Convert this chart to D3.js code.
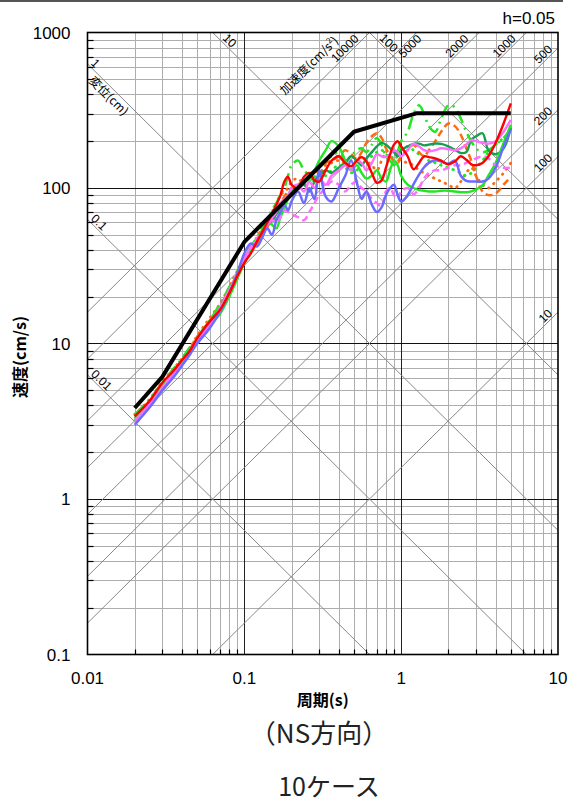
<!DOCTYPE html>
<html><head><meta charset="utf-8">
<script src="https://cdn.jsdelivr.net/npm/d3@7"></script>
<style>body{margin:0;background:#fff}svg{display:block}</style>
</head><body>
<svg id="c" width="569" height="804"></svg>
<script>
// ---------- data ----------
const periods=[0.02,0.025,0.03,0.035,0.04,0.045,0.05,0.06,0.07,0.08,
0.09,0.1,0.11,0.12,0.13,0.14,0.15,0.16,0.17,0.18,
0.19,0.2,0.22,0.24,0.26,0.28,0.3,0.33,0.36,0.4,
0.44,0.48,0.52,0.56,0.6,0.65,0.7,0.75,0.8,0.85,
0.9,0.95,1.0,1.1,1.2,1.3,1.4,1.5,1.65,1.8,
2.0,2.2,2.4,2.6,2.8,3.0,3.3,3.6,4.0,4.5,5.0];

const designT=[0.02,0.03,0.1,0.5,1.25,5];
const designSv=[3.85,6.1,45,230,302,302];

const caseRed=[3.4,4.3,5.6,6.6,7.8,9.0,10.8,13.8,16.5,21,
27,33,38,45,52,60,68,78,90,110,
118,105,100,118,125,112,110,130,150,160,
145,138,150,158,148,125,108,112,135,165,
190,200,185,160,132,145,160,158,155,150,
142,148,160,152,142,140,145,160,195,260,350];
const caseBlue=[3.0,3.9,5.0,6.0,7.2,8.5,10.0,12.5,16,21,
28,38,44,42,48,55,50,62,70,78,
72,82,95,80,100,85,130,88,82,100,
120,150,110,85,95,78,70,75,90,100,
105,90,82,90,106,122,136,145,151,148,
143,150,120,111,110,110,110,115,135,185,238];
const casePink=[3.2,4.1,5.2,6.4,7.7,9.0,10.6,13.2,17,22,
28,35,42,46,52,58,64,70,80,85,
90,100,105,95,110,100,115,105,120,130,
140,130,150,145,130,145,165,160,158,165,
175,170,160,175,193,185,175,172,175,180,
178,175,180,190,204,200,195,193,200,230,274];
const casePinkDash=[3.1,4.0,5.0,6.1,7.4,8.8,10.0,13,16.5,21,
27,34,40,47,52,58,62,60,65,72,
70,68,65,62,70,80,90,100,110,105,
95,105,110,100,95,85,80,76,95,100,
90,85,95,100,91,100,115,125,130,130,
135,140,140,145,150,155,160,155,140,135,135];
const caseGreen=[3.3,4.2,5.4,6.5,7.5,8.8,10.5,13,15.5,20,
26,33,40,46,54,60,58,55,65,75,
85,95,100,110,120,130,150,175,200,185,
150,130,140,125,115,120,130,115,110,130,
150,140,120,105,100,97,96,95,95,96,
96,95,94,94,95,98,104,120,145,195,255];
const caseGreenDash=[3.5,4.4,5.6,6.8,8.0,9.5,11,14,18,23,
29,36,42,48,56,64,72,80,90,100,
120,140,150,130,120,110,130,150,160,170,
150,160,175,180,170,190,210,190,160,150,
140,170,200,230,300,340,300,250,230,280,
340,330,280,230,200,180,170,175,190,210,240];
const caseDarkGreen=[3.3,4.2,5.3,6.4,7.6,9,10.5,13,16,21,
27,33,40,46,52,58,62,68,75,82,
90,95,100,105,95,110,120,130,125,135,
145,160,150,140,155,170,185,195,190,180,
170,160,175,185,192,193,188,190,193,192,
185,176,168,170,205,215,225,175,165,180,245];
const caseOrangeDash=[3.4,4.3,5.5,6.5,7.7,9.2,11,14,17.5,22,
28,35,40,44,50,56,64,72,80,88,
95,100,105,112,118,125,135,145,150,160,
175,165,155,170,195,215,225,210,180,160,
150,145,160,175,190,170,160,175,200,230,
260,250,220,180,150,120,95,90,92,105,118];
const caseOrangeDot=[3.5,4.4,5.7,6.8,8,9.4,11.2,14.5,18,23,
29,35,41,48,55,62,70,80,90,95,
100,110,115,105,120,130,125,140,145,150,
140,130,150,160,150,140,130,150,170,180,
175,160,150,145,140,130,125,120,115,110,
105,100,110,125,135,120,105,100,110,125,145];
const caseGreenDot=[3.2,4.1,5.3,6.3,7.5,8.9,10.3,13,16,20,
26,33,38,44,50,56,60,65,72,80,
85,92,98,105,112,118,125,120,130,140,
135,125,130,140,150,160,170,175,165,155,
160,170,180,185,175,165,160,150,145,140,
135,130,125,120,125,135,150,170,190,210,230];

const xTickVals=[0.01,0.1,1,10];
const xTickLabels=["0.01","0.1","1","10"];
const yTickVals=[0.1,1,10,100,1000];
const yTickLabels=["0.1","1","10","100","1000"];
const dispLines=[0.01,0.1,1,10,100];          // cm
const dispLabels=["0.01","0.1","1","10","100"];
const accLines=[10,100,200,500,1000,2000,5000,10000]; // cm/s2
const accLabels=["10","100","200","500","1000","2000","5000","10000"];

// series styles
const series=[
 {v:caseOrangeDot,c:"#ff6a10",dash:"0.5,6",cap:"round",w:2.8},
 {v:caseGreenDot,c:"#22e622",dash:"0.5,6",cap:"round",w:2.8},
 {v:caseOrangeDash,c:"#ff6a10",dash:"7,4",w:2.5},
 {v:caseGreenDash,c:"#22e622",dash:"13,5,2,5",w:2.5},
 {v:caseDarkGreen,c:"#14a050",dash:null,w:2.4},
 {v:caseGreen,c:"#22e622",dash:null,w:2.4},
 {v:casePinkDash,c:"#ff6eff",dash:"7,4",w:2.5},
 {v:casePink,c:"#ff6eff",dash:null,w:2.4},
 {v:caseBlue,c:"#6b6bff",dash:null,w:2.5},
 {v:caseRed,c:"#ff0000",dash:null,w:2.4}
];

// ---------- drawing ----------
const svg=d3.select("#c");
const LAT="'Liberation Sans',Arial,sans-serif";
const JP="'Noto Sans CJK JP','Noto Sans',sans-serif";
const x=d3.scaleLog().domain([0.01,10]).range([87.5,558]);
const y=d3.scaleLog().domain([0.1,1000]).range([654.5,32.5]);
const X0=x.range()[0],X1=x.range()[1],YT=y.range()[1],YB=y.range()[0];
const px=v=>Math.round(x(v))+0.5, py=v=>Math.round(y(v))+0.5;

svg.append("rect").attr("x",0).attr("y",0).attr("width",563).attr("height",2).attr("fill","#555");

svg.append("defs").append("clipPath").attr("id","plot").append("rect")
 .attr("x",X0).attr("y",YT).attr("width",X1-X0).attr("height",YB-YT);

function minors(lo,hi){const a=[];for(let e=Math.log10(lo);e<Math.log10(hi);e++){for(let k=2;k<=9;k++)a.push(+(k*Math.pow(10,e)).toPrecision(3));}return a;}
const xMinor=minors(0.01,10), yMinor=minors(0.1,1000);

const g=svg.append("g");
g.selectAll(".vx").data(xMinor).enter().append("line")
 .attr("x1",d=>px(d)).attr("x2",d=>px(d)).attr("y1",YT).attr("y2",YB)
 .attr("stroke","#adadad").attr("stroke-width",1);
g.selectAll(".hy").data(yMinor).enter().append("line")
 .attr("y1",d=>py(d)).attr("y2",d=>py(d)).attr("x1",X0).attr("x2",X1)
 .attr("stroke","#adadad").attr("stroke-width",1);

// tripartite diagonals
const TW=2*Math.PI;
const diag=svg.append("g").attr("clip-path","url(#plot)");
const ln=d3.line().x(d=>x(d[0])).y(d=>y(d[1]));
dispLines.forEach(sd=>{
 diag.append("path").attr("d",ln([[0.003,TW*sd/0.003],[30,TW*sd/30]]))
  .attr("stroke","#888").attr("stroke-width",1).attr("fill","none");
});
accLines.forEach(sa=>{
 diag.append("path").attr("d",ln([[0.003,sa*0.003/TW],[30,sa*30/TW]]))
  .attr("stroke","#888").attr("stroke-width",1).attr("fill","none");
});

// major grid
g.selectAll(".mx").data([0.1,1]).enter().append("line")
 .attr("x1",d=>px(d)).attr("x2",d=>px(d)).attr("y1",YT).attr("y2",YB)
 .attr("stroke","#222").attr("stroke-width",1);
g.selectAll(".my").data([1,10,100]).enter().append("line")
 .attr("y1",d=>py(d)).attr("y2",d=>py(d)).attr("x1",X0).attr("x2",X1)
 .attr("stroke","#111").attr("stroke-width",1);

// ticks (inward)
svg.selectAll(".tl").data(yMinor).enter().append("line")
 .attr("x1",X0).attr("x2",X0+6).attr("y1",d=>py(d)).attr("y2",d=>py(d))
 .attr("stroke","#000").attr("stroke-width",1.2);
svg.selectAll(".tb").data(xMinor).enter().append("line")
 .attr("y1",YB).attr("y2",YB-5).attr("x1",d=>px(d)).attr("x2",d=>px(d))
 .attr("stroke","#000").attr("stroke-width",1.2);

svg.append("rect").attr("x",X0).attr("y",YT).attr("width",X1-X0).attr("height",YB-YT)
 .attr("fill","none").attr("stroke","#000").attr("stroke-width",1.6);

// diagonal labels
function unit(a,b){const dx=b[0]-a[0],dy=b[1]-a[1],l=Math.hypot(dx,dy);return [dx/l,dy/l];}
const labG=svg.append("g").attr("font-family",LAT).attr("font-size",12).attr("fill","#000");
function rotText(t,A,ang,anchor,fam){
 return labG.append("text").attr("transform",`translate(${A[0]},${A[1]}) rotate(${ang})`)
  .attr("text-anchor",anchor).attr("font-family",fam||LAT).text(t);
}
dispLines.forEach((sd,i)=>{
 const a=[x(0.01),y(TW*sd/0.01)], b=[x(10),y(TW*sd/10)];
 const u=unit(a,b), n=[u[1],-u[0]], ang=Math.atan2(u[1],u[0])*180/Math.PI;
 let P,d;
 if(TW*sd/0.01<=1000){P=a;d=2;} else {P=[x(TW*sd/1000),YT];d=11;}
 const A=[P[0]+d*u[0]+2*n[0],P[1]+d*u[1]+2*n[1]];
 rotText(dispLabels[i],A,ang,"start");
 if(sd===1){
  const B=[P[0]+13*u[0]-12*n[0],P[1]+13*u[1]-12*n[1]];
  rotText("変位(cm)",B,ang,"start",JP);
 }
});
accLines.forEach((sa,i)=>{
 const a=[x(0.01),y(sa*0.01/TW)], b=[x(10),y(sa*10/TW)];
 const u=unit(a,b), n=[u[1],-u[0]], ang=Math.atan2(u[1],u[0])*180/Math.PI;
 let P,d,off=2;
 if(sa*10/TW<=1000){P=b;d=5;} else {P=[x(TW*1000/sa),YT];d=12;}
 if(sa===5000){d=1;off=-9;}
 const A=[P[0]-d*u[0]+off*n[0],P[1]-d*u[1]+off*n[1]];
 rotText(accLabels[i],A,ang,"end");
 if(sa===10000){
  const B=[P[0]-28*u[0]+15*n[0],P[1]-28*u[1]+15*n[1]];
  const t=rotText("",B,ang,"end",JP);
  t.append("tspan").text("加速度(cm/s");
  t.append("tspan").attr("font-size",8).attr("dy",-5).text("2");
  t.append("tspan").attr("dy",5).text(")");
 }
});

// data curves
const plotG=svg.append("g").attr("clip-path","url(#plot)");
const curve=d3.line().x(d=>x(d[0])).y(d=>y(d[1])).curve(d3.curveCatmullRom.alpha(0.5));
series.forEach(s=>{
 const p=plotG.append("path").attr("d",curve(periods.map((t,i)=>[t,s.v[i]])))
  .attr("fill","none").attr("stroke",s.c).attr("stroke-width",s.w)
  .attr("stroke-linejoin","round").attr("stroke-linecap",s.cap||"butt");
 if(s.dash)p.attr("stroke-dasharray",s.dash);
});
plotG.append("path").attr("d",d3.line().x(d=>x(d[0])).y(d=>y(d[1]))(designT.map((t,i)=>[t,designSv[i]])))
 .attr("fill","none").attr("stroke","#000").attr("stroke-width",4).attr("stroke-linejoin","round");

// axis labels
svg.selectAll(".xl").data(xTickVals).enter().append("text")
 .attr("x",d=>x(d)).attr("y",YB+29).attr("text-anchor","middle")
 .attr("font-family",LAT).attr("font-size",17).text((d,i)=>xTickLabels[i]);
svg.selectAll(".yl").data(yTickVals).enter().append("text")
 .attr("x",X0-17).attr("y",d=>y(d)+6).attr("text-anchor","end")
 .attr("font-family",LAT).attr("font-size",17).text((d,i)=>yTickLabels[i]);

svg.append("text").attr("x",555).attr("y",24).attr("text-anchor","end")
 .attr("font-family",LAT).attr("font-size",17).text("h=0.05");

svg.append("text").attr("x",(X0+X1)/2).attr("y",706).attr("text-anchor","middle")
 .attr("font-family",JP).attr("font-size",16).attr("font-weight",700).text("周期(s)");
svg.append("text").attr("transform",`translate(26,357) rotate(-90)`).attr("text-anchor","middle")
 .attr("font-family",JP).attr("font-size",16).attr("font-weight",700).text("速度(cm/s)");
svg.append("text").attr("x",319).attr("y",743).attr("text-anchor","middle")
 .attr("font-family",JP).attr("font-size",26).attr("fill","#222").text("（NS方向）");
svg.append("text").attr("x",329).attr("y",796).attr("text-anchor","middle")
 .attr("font-family",JP).attr("font-size",25).attr("fill","#222").text("10ケース");
</script>
</body></html>
